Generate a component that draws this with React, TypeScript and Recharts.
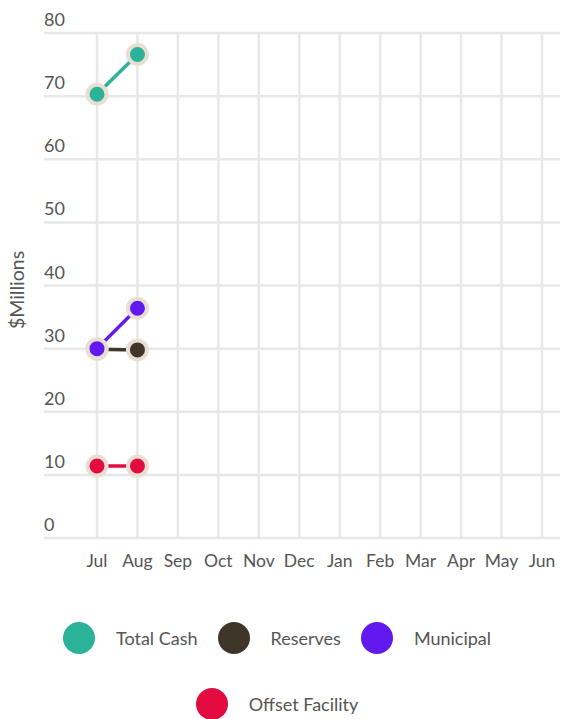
import React from 'react';
import { LineChart, Line, XAxis, YAxis, CartesianGrid, Label, ReferenceLine } from 'recharts';

const months = ['Jul', 'Aug', 'Sep', 'Oct', 'Nov', 'Dec', 'Jan', 'Feb', 'Mar', 'Apr', 'May', 'Jun'];
const totalCash = [70.3, 76.6];
const reserves = [29.9, 29.8];
const municipal = [30.0, 36.4];
const offsetFacility = [11.4, 11.4];
const yTicks = [0, 10, 20, 30, 40, 50, 60, 70, 80];

const series = [
  { key: 'totalCash', name: 'Total Cash', color: '#2bb39a', values: totalCash },
  { key: 'reserves', name: 'Reserves', color: '#3e3629', values: reserves },
  { key: 'municipal', name: 'Municipal', color: '#6119f0', values: municipal },
  { key: 'offsetFacility', name: 'Offset Facility', color: '#e30c40', values: offsetFacility },
];

const data = months.map((m, i) => {
  const row: any = { month: m };
  series.forEach((s) => {
    if (i < s.values.length) row[s.key] = s.values[i];
  });
  return row;
});

const font = 'Lato, "Open Sans", sans-serif';
const textColor = '#555';
const gridColor = '#e8e8e8';

const YTick = ({ y, payload }: any) => (
  <text x={44} y={y - 7} fill={textColor} fontSize={18} fontFamily={font} textAnchor="start">
    {payload.value}
  </text>
);

const XTick = ({ x, y, payload }: any) => (
  <text x={x} y={y + 21} fill={textColor} fontSize={17.5} fontFamily={font} textAnchor="middle">
    {payload.value}
  </text>
);

export default function App() {
  return (
    <div style={{ position: 'absolute', left: 0, top: 0, width: 562, height: 719, background: '#fff', fontFamily: font }}>
      <LineChart width={562} height={580} data={data} margin={{ top: 33, right: 2, left: 0, bottom: 0 }}>
        <CartesianGrid stroke={gridColor} strokeWidth={2.5} vertical={false} />
        {months.map((m) => (
          <ReferenceLine key={m} x={m} stroke={gridColor} strokeWidth={2.5} />
        ))}
        <XAxis
          dataKey="month"
          padding={{ left: 53, right: 18 }}
          axisLine={false}
          tickLine={false}
          height={42}
          tick={<XTick />}
          interval={0}
        />
        <YAxis
          width={44}
          domain={[0, 80]}
          ticks={yTicks}
          axisLine={false}
          tickLine={false}
          tick={<YTick />}
        >
          <Label
            content={() => (
              <text
                x={0}
                y={0}
                transform="translate(24, 290) rotate(-90)"
                textAnchor="middle"
                fill={textColor}
                fontSize={19.5}
                fontFamily={font}
              >
                $Millions
              </text>
            )}
          />
        </YAxis>
        {series.map((s) => (
          <Line
            key={s.key}
            dataKey={s.key}
            name={s.name}
            stroke={s.color}
            strokeWidth={3.5}
            dot={{ r: 9.5, fill: s.color, stroke: '#e8dfd2', strokeWidth: 4 }}
            activeDot={false}
            isAnimationActive={false}
          />
        ))}
      </LineChart>
      <div
        style={{
          position: 'absolute',
          left: 30,
          top: 622,
          width: 494,
          display: 'flex',
          flexWrap: 'wrap',
          justifyContent: 'center',
          columnGap: 20,
          rowGap: 34,
        }}
      >
        {series.map((s) => (
          <div key={s.key} style={{ display: 'flex', alignItems: 'center', height: 32 }}>
            <div style={{ width: 32, height: 32, borderRadius: 16, background: s.color, marginRight: 21 }} />
            <span style={{ fontSize: 18, color: textColor }}>{s.name}</span>
          </div>
        ))}
      </div>
    </div>
  );
}
